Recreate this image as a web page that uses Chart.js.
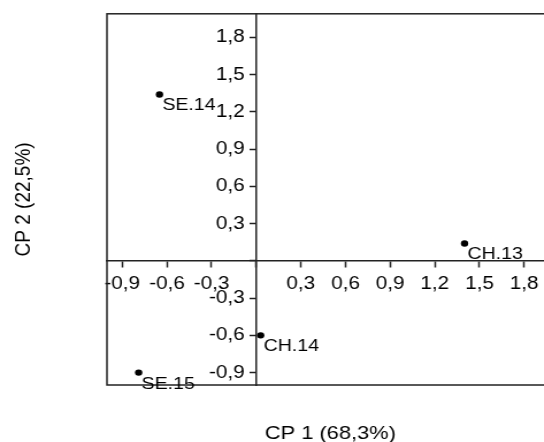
<!DOCTYPE html>
<html>
<head>
<meta charset="utf-8">
<script src="https://cdn.jsdelivr.net/npm/chart.js@4.4.1/dist/chart.umd.min.js"></script>
<style>
  html, body { margin: 0; padding: 0; background: #fff; overflow: hidden; }
  /* the original figure is stretched sideways, so the canvas is too */
  #wrap { width: 490px; height: 450px; transform: scaleX(1.15); transform-origin: 0 0; }
</style>
</head>
<body>
<div id="wrap"><canvas id="pca" width="490" height="450"></canvas></div>
<script>
// Sample scores on the first two principal components
const sampleNames = ['SE.14', 'CH.13', 'CH.14', 'SE.15'];
const cp1Scores = [-0.65, 1.40, 0.03, -0.79];
const cp2Scores = [1.34, 0.14, -0.60, -0.90];

const xTitle = 'CP 1 (68,3%)';
const yTitle = 'CP 2 (22,5%)';
const tickStep = 0.3;

const FONT = "'Liberation Sans', Arial, sans-serif";
const INK = '#000';

const fmtTick = v => (Math.abs(v) < 1e-9 ? '' : v.toFixed(1).replace('.', ','));

// box around the plot area
const framePlugin = {
  id: 'frame',
  beforeDatasetsDraw(chart) {
    const { ctx, chartArea: a } = chart;
    ctx.save();
    ctx.strokeStyle = '#222';
    ctx.lineWidth = 1.5;
    ctx.strokeRect(a.left, a.top, a.right - a.left, a.bottom - a.top);
    ctx.restore();
  }
};

// sample names next to each point
const pointLabels = {
  id: 'pointLabels',
  afterDatasetsDraw(chart) {
    const { ctx } = chart;
    const meta = chart.getDatasetMeta(0);
    ctx.save();
    ctx.font = '17px ' + FONT;
    ctx.fillStyle = INK;
    ctx.textAlign = 'left';
    ctx.textBaseline = 'alphabetic';
    meta.data.forEach((pt, i) => {
      ctx.fillText(sampleNames[i], pt.x + 2.5, pt.y + 16);
    });
    ctx.restore();
  }
};

const points = sampleNames.map((n, i) => ({ x: cp1Scores[i], y: cp2Scores[i] }));

new Chart(document.getElementById('pca'), {
  type: 'scatter',
  data: {
    datasets: [{
      data: points,
      pointRadius: 3.2,
      pointHoverRadius: 3.2,
      backgroundColor: '#000',
      borderWidth: 0
    }]
  },
  options: {
    responsive: false,
    animation: false,
    events: [],
    layout: { padding: { top: 11, right: 8.4, bottom: 0, left: 0 } },
    plugins: { legend: { display: false }, tooltip: { enabled: false } },
    scales: {
      x: {
        type: 'linear',
        position: { y: 0 },
        min: -1.003,
        max: 2.0,
        grid: { drawOnChartArea: false, drawTicks: true, tickLength: 6, tickColor: '#222', tickWidth: 1.5 },
        border: { display: true, color: '#222', width: 1.5 },
        ticks: {
          stepSize: tickStep,
          includeBounds: false,
          padding: 6,
          color: INK,
          font: { family: FONT, size: 18 },
          maxRotation: 0,
          autoSkip: false,
          callback: fmtTick
        }
      },
      y: {
        type: 'linear',
        position: { x: 0 },
        min: -1.0,
        max: 1.99,
        grid: { drawOnChartArea: false, drawTicks: true, tickLength: 5, tickColor: '#222', tickWidth: 1.5 },
        border: { display: true, color: '#222', width: 1.5 },
        ticks: {
          stepSize: tickStep,
          includeBounds: false,
          color: INK,
          font: { family: FONT, size: 18 },
          autoSkip: false,
          callback: v => { const s = fmtTick(v); return s ? s + '  ' : ''; }
        }
      },
      // title-only axes along the page edges
      xt: {
        type: 'linear',
        axis: 'x',
        position: 'bottom',
        min: 0,
        max: 1,
        grid: { display: false },
        border: { display: false },
        ticks: { display: false },
        title: { display: true, text: xTitle, color: INK, font: { family: FONT, size: 19 }, padding: { top: 0, bottom: 5 } },
        afterFit: s => { s.height = 65; }
      },
      yt: {
        type: 'linear',
        axis: 'y',
        position: 'left',
        min: 0,
        max: 1,
        grid: { display: false },
        border: { display: false },
        ticks: { display: false },
        title: { display: true, text: yTitle, color: INK, font: { family: FONT, size: 19 }, padding: { top: 9.5, bottom: 0 } },
        afterFit: s => { s.width = 93; }
      }
    }
  },
  plugins: [framePlugin, pointLabels]
});
</script>
</body>
</html>
